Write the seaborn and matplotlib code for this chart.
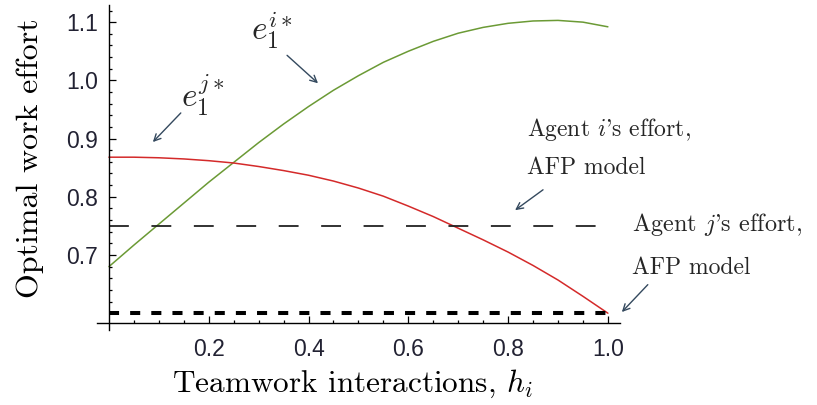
import numpy as np
import pandas as pd
import seaborn as sns
import matplotlib.pyplot as plt
from matplotlib.ticker import FixedLocator

# teamwork interactions h_i
h_vals = [0.00, 0.05, 0.10, 0.15, 0.20, 0.25, 0.30, 0.35, 0.40, 0.45, 0.50,
          0.55, 0.60, 0.65, 0.70, 0.75, 0.80, 0.85, 0.90, 0.95, 1.00]
# agent i optimal effort (green)
e_i = [0.680, 0.717, 0.753, 0.789, 0.825, 0.859, 0.893, 0.925, 0.955, 0.983, 1.008,
       1.031, 1.050, 1.067, 1.081, 1.091, 1.098, 1.102, 1.103, 1.100, 1.092]
# agent j optimal effort (red)
e_j = [0.868, 0.868, 0.867, 0.865, 0.862, 0.858, 0.852, 0.845, 0.837, 0.827, 0.815,
       0.801, 0.784, 0.766, 0.746, 0.726, 0.705, 0.682, 0.657, 0.629, 0.600]
afp_i = 0.75
afp_j = 0.60

x_ticks = [0.2, 0.4, 0.6, 0.8, 1.0]
y_ticks = [0.7, 0.8, 0.9, 1.0, 1.1]

df = pd.DataFrame({'h': h_vals, 'ei': e_i, 'ej': e_j})

sns.set_theme(style='white')
plt.rcParams['mathtext.fontset'] = 'cm'
plt.rcParams['font.family'] = ['cmr10', 'DejaVu Serif']
plt.rcParams['axes.formatter.use_mathtext'] = True

fig = plt.figure(figsize=(8.17, 4.05), dpi=100)
ax = fig.add_axes([0.1187, 0.185, 0.640, 0.802])

sns.lineplot(data=df, x='h', y='ei', color='#6b9a35', lw=1.1, ax=ax)
sns.lineplot(data=df, x='h', y='ej', color='#d42a2a', lw=1.1, ax=ax)
ax.plot([0, 1], [afp_i, afp_i], color='#222222', lw=1.3, dashes=(11, 12.5))
ax.plot([0, 1], [afp_j, afp_j], color='black', lw=2.9, dashes=(2.5, 2.75))

ax.set_xlim(-0.024, 1.024)
ax.set_ylim(0.571, 1.129)

# Mathematica-like crossing axes
ax.spines['left'].set_position(('data', 0))
ax.spines['bottom'].set_position(('data', 0.583))
for s in ['top', 'right']:
    ax.spines[s].set_visible(False)
for s in ['left', 'bottom']:
    ax.spines[s].set_color('black')
    ax.spines[s].set_linewidth(1.0)

ax.xaxis.set_major_locator(FixedLocator(x_ticks))
ax.xaxis.set_minor_locator(FixedLocator(np.arange(0.05, 1.001, 0.05)))
ax.yaxis.set_major_locator(FixedLocator(y_ticks))
ax.yaxis.set_minor_locator(FixedLocator(np.arange(0.60, 1.121, 0.02)))
ax.tick_params(which='both', direction='in', color='black', width=0.9,
               bottom=True, left=True)
ax.tick_params(which='major', length=5)
ax.tick_params(which='minor', length=2.5)
ax.tick_params(axis='x', which='major', pad=11)
ax.tick_params(axis='y', which='major', pad=8)
ax.set_xticklabels([f'{v:.1f}' for v in x_ticks])
ax.set_yticklabels([f'{v:.1f}' for v in y_ticks])
for lab in ax.get_xticklabels() + ax.get_yticklabels():
    lab.set_fontfamily('Liberation Sans')
    lab.set_fontsize(16.5)
    lab.set_color('#222233')

ax.set_xlabel(r'Teamwork interactions, $h_i$', fontsize=22.5, color='black')
ax.set_ylabel('Optimal work effort', fontsize=23, color='black')
ax.xaxis.set_label_coords(0.488, -0.165)
ax.xaxis.label.set_va('center')
ax.yaxis.set_label_coords(-0.128, 0.53)
ax.yaxis.label.set_va('center')

arrow_kw = dict(arrowstyle='->', color='#34495e', lw=1.0, shrinkA=0, shrinkB=0)

ax.text(0.327, 1.086, r'$e_1^{i*}$', fontsize=24, ha='center', va='center')
ax.annotate('', xy=(0.419, 0.995), xytext=(0.357, 1.043), arrowprops=arrow_kw)
ax.text(0.188, 0.975, r'$e_1^{j*}$', fontsize=24, ha='center', va='center')
ax.annotate('', xy=(0.088, 0.894), xytext=(0.144, 0.944), arrowprops=arrow_kw)

ax.text(0.838, 0.915, r"Agent $i$'s effort,", fontsize=17, ha='left', va='center')
ax.text(0.838, 0.850, 'AFP model', fontsize=17, ha='left', va='center')
ax.annotate('', xy=(0.814, 0.777), xytext=(0.870, 0.812), arrowprops=arrow_kw)

ax.text(1.048, 0.752, r"Agent $j$'s effort,", fontsize=17.5, ha='left', va='center',
        clip_on=False)
ax.text(1.048, 0.678, 'AFP model', fontsize=17, ha='left', va='center', clip_on=False)
ax.annotate('', xy=(1.028, 0.602), xytext=(1.080, 0.649), arrowprops=arrow_kw,
            annotation_clip=False)

fig.savefig('out.png', dpi=100)
